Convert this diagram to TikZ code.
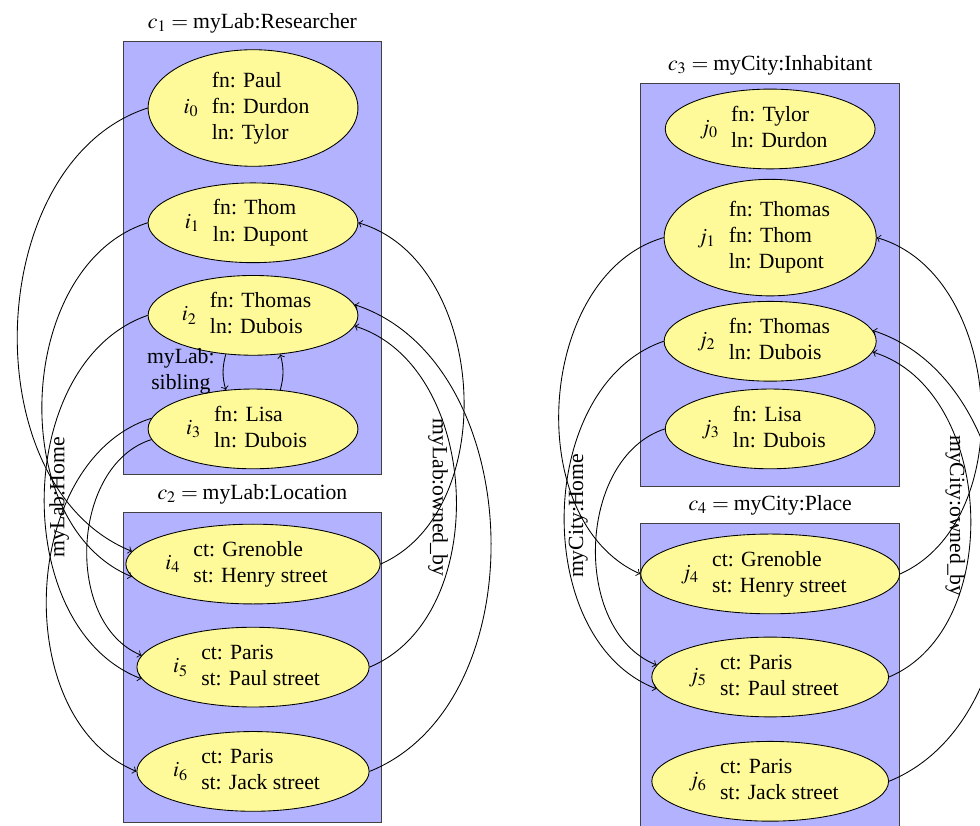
\documentclass[tikz,border=0pt]{standalone}
\usepackage{mathptmx}
\usepackage{fontspec}
\setmainfont{Liberation Serif}
\usetikzlibrary{shapes.geometric}

\begin{document}
\begin{tikzpicture}
  \tikzset{
    class/.style={draw=black!75, fill=blue!30, minimum width=4.19cm, inner sep=0pt},
    inst/.style={ellipse, draw, fill=yellow!40, minimum width=3.4cm, inner sep=1pt},
    rel/.style={->, bend right=70},
  }
  \useasboundingbox (0,0) rectangle (15.88,-13.37);
  \clip (0,0) rectangle (15.88,-13.37);
  % classes
  \node[class, minimum height=7.03cm, label={above:{$c_1 = \mbox{myLab:Researcher}$}}] (c1) at (4.09,-4.18) {};
  \node[class, minimum height=5.02cm, label={above:{$c_2 = \mbox{myLab:Location}$}}] (c2) at (4.09,-10.81) {};
  \node[class, minimum height=6.53cm, label={above:{$c_3 = \mbox{myCity:Inhabitant}$}}] (c3) at (12.48,-4.61) {};
  \node[class, minimum height=5.05cm, label={above:{$c_4 = \mbox{myCity:Place}$}}] (c4) at (12.48,-11.0) {};
  % myLab instances
  \node[inst] (i0) at (4.1,-1.75) {$i_0$\begin{tabular}{l}fn: Paul\\fn: Durdon\\ln: Tylor\end{tabular}};
  \node[inst] (i1) at (4.1,-3.61) {$i_1$\begin{tabular}{l}fn: Thom\\ln: Dupont\end{tabular}};
  \node[inst] (i2) at (4.1,-5.11) {$i_2$\begin{tabular}{l}fn: Thomas\\ln: Dubois\end{tabular}};
  \node[inst] (i3) at (4.1,-6.95) {$i_3$\begin{tabular}{l}fn: Lisa\\ln: Dubois\end{tabular}};
  \node[inst] (i4) at (4.1,-9.14) {$i_4$\begin{tabular}{l}ct: Grenoble\\st: Henry street\end{tabular}};
  \node[inst] (i5) at (4.1,-10.81) {$i_5$\begin{tabular}{l}ct: Paris\\st: Paul street\end{tabular}};
  \node[inst] (i6) at (4.1,-12.5) {$i_6$\begin{tabular}{l}ct: Paris\\st: Jack street\end{tabular}};
  % myCity instances
  \node[inst] (j0) at (12.48,-2.09) {$j_0$\begin{tabular}{l}fn: Tylor\\ln: Durdon\end{tabular}};
  \node[inst] (j1) at (12.48,-3.85) {$j_1$\begin{tabular}{l}fn: Thomas\\fn: Thom\\ln: Dupont\end{tabular}};
  \node[inst] (j2) at (12.48,-5.53) {$j_2$\begin{tabular}{l}fn: Thomas\\ln: Dubois\end{tabular}};
  \node[inst] (j3) at (12.48,-6.95) {$j_3$\begin{tabular}{l}fn: Lisa\\ln: Dubois\end{tabular}};
  \node[inst] (j4) at (12.48,-9.3) {$j_4$\begin{tabular}{l}ct: Grenoble\\st: Henry street\end{tabular}};
  \node[inst] (j5) at (12.48,-10.97) {$j_5$\begin{tabular}{l}ct: Paris\\st: Paul street\end{tabular}};
  \node[inst] (j6) at (12.48,-12.66) {$j_6$\begin{tabular}{l}ct: Paris\\st: Jack street\end{tabular}};
  % home
  \draw[rel] (i0.west) to (i4.174);
  \draw[rel] (i1.west) to (i4.186);
  \draw[rel] (i2.west) to (i5.186);
  \draw[rel] (i3.186) to (i5.174);
  \draw[rel] (i3.174) to (i6.west);
  \draw[rel] (j1.west) to (j4.west);
  \draw[rel] (j2.west) to (j5.186);
  \draw[rel] (j3.west) to (j5.174);
  % owned_by
  \draw[rel] (i4.east) to (i1.east);
  \draw[rel] (i5.east) to (i2.-6);
  \draw[rel] (i6.east) to (i2.6);
  \draw[rel] (j4.east) to (j1.east);
  \draw[rel] (j5.east) to (j2.-6);
  \draw[rel] (j6.east) to (j2.6);
  % sibling
  \draw[->] (i2.235) to[bend right=15] (i3.125);
  \draw[->] (i3.55) to[bend right=15] (i2.305);
  \node[align=center] (sib) at (2.93,-6.01) {myLab:\\sibling};
  \node[rotate=90] (home1) at (0.96,-8.06) {myLab:Home};
  \node[rotate=-90] (own1) at (7.1,-8.06) {myLab:owned\_by};
  \node[rotate=90] (home2) at (9.37,-8.36) {myCity:Home};
  \node[rotate=-90] (own2) at (15.48,-8.36) {myCity:owned\_by};
\end{tikzpicture}
\end{document}
